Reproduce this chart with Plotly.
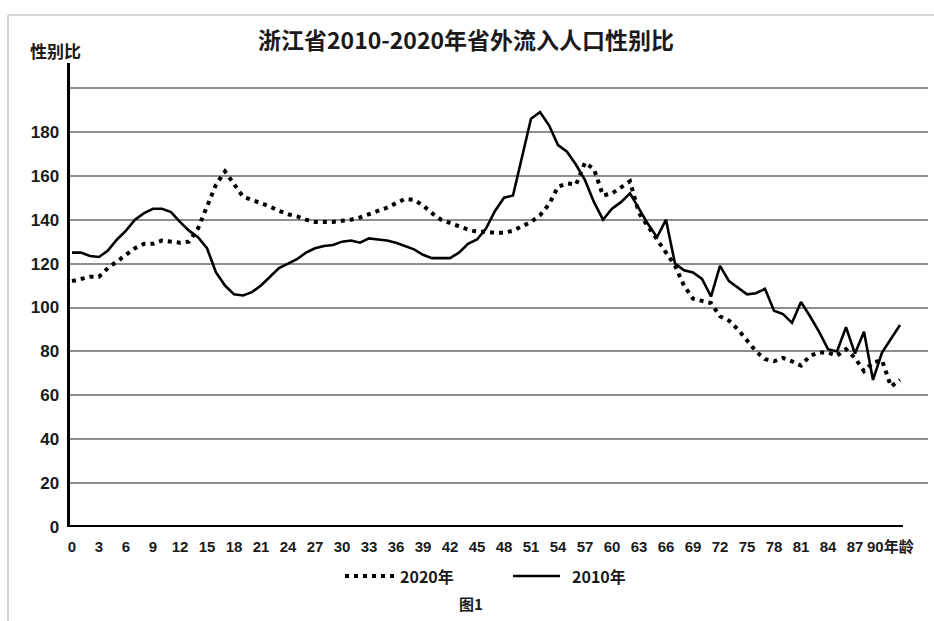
import plotly.graph_objects as go

# ---- data ----
ages = list(range(0, 93))

sex_ratio_2010 = [
    125, 125, 123.5, 123, 126, 131, 135, 140, 143, 145,      # 0-9
    145, 143.5, 139, 135, 132, 127, 116, 110, 106, 105.5,    # 10-19
    107, 110, 114, 118, 120, 122, 125, 127, 128, 128.5,      # 20-29
    130, 130.5, 129.5, 131.5, 131, 130.5, 129.5, 128, 126.5, 124,  # 30-39
    122.5, 122.5, 122.5, 125, 129, 131, 136, 144, 150, 151,  # 40-49
    168, 186, 189, 183, 174, 171, 165, 158, 148, 140,        # 50-59
    145, 148, 152, 145, 138, 132, 140, 120, 117, 116,        # 60-69
    113, 105, 119, 112, 109, 106, 106.5, 108.5, 98.5, 97,    # 70-79
    93, 102.5, 96, 89, 81, 80, 91, 79, 89, 67,              # 80-89
    79.5, 86, 92,                                            # 90-92
]

sex_ratio_2020 = [
    112, 113, 114, 114, 118, 121, 124, 127, 129, 129,        # 0-9
    130.5, 130, 129.5, 130, 136, 146, 156, 162, 156, 150.5,  # 10-19
    149, 147.5, 146, 144, 142.5, 141.5, 140, 139, 139, 139,  # 20-29
    139.5, 140, 141, 142.5, 144, 145.5, 147.5, 149.5, 149, 146.5,  # 30-39
    143, 140, 138.5, 137, 135.5, 134.5, 134.5, 134, 134, 135,  # 40-49
    137, 139, 142, 147, 155, 156.5, 156, 166, 163, 151,      # 50-59
    152, 155, 157.5, 143, 137, 131, 125, 119, 110, 104,      # 60-69
    103, 102, 96, 94, 90, 85, 80, 76.5, 75.5, 77,            # 70-79
    75.5, 73.5, 78, 79.5, 79.5, 78, 81, 77, 71, 75,          # 80-89
    76, 64, 67,                                              # 90-92
]

x_tick_vals = list(range(0, 90, 3))
x_tick_text = [str(v) for v in x_tick_vals]
x_last_label = "90年龄"
y_tick_vals = [0, 20, 40, 60, 80, 100, 120, 140, 160, 180, 200]
y_tick_text = ["0", "20", "40", "60", "80", "100", "120", "140", "160", "180", ""]

title_text = "浙江省2010-2020年省外流入人口性别比"
y_title = "性别比"
series_names = ["2020年", "2010年"]
caption = "图1"

# ---- layout geometry (pixels) ----
W, H = 934, 621
L, R, T, B = 70, 6, 63, 94
pw, ph = W - L - R, H - T - B


def px(x):
    return (x - L) / pw


def py(y):
    return (H - B - y) / ph


CJK = "Noto Sans CJK SC, Liberation Sans, sans-serif"
NUM = "Liberation Sans, Noto Sans CJK SC, sans-serif"
INK = "#1a1a1a"
DOT = "4px,5px"

fig = go.Figure()
fig.add_trace(go.Scatter(
    x=ages, y=sex_ratio_2020, mode="lines", name=series_names[0],
    line=dict(color="black", width=4, dash=DOT), showlegend=False,
))
fig.add_trace(go.Scatter(
    x=ages, y=sex_ratio_2010, mode="lines", name=series_names[1],
    line=dict(color="black", width=2.6), showlegend=False,
))

shapes = [
    # x axis line
    dict(type="line", xref="paper", yref="y", x0=0, x1=px(903), y0=0, y1=0,
         line=dict(color="black", width=4)),
    # faint frame lines
    dict(type="line", xref="paper", yref="paper", x0=px(8), x1=px(W + 5),
         y0=py(15), y1=py(15), line=dict(color="#c8c8c8", width=1.5)),
    dict(type="line", xref="paper", yref="paper", x0=px(8), x1=px(8),
         y0=py(15), y1=py(H + 5), line=dict(color="#c8c8c8", width=1.5)),
    # legend samples
    dict(type="line", xref="paper", yref="paper", x0=px(345), x1=px(396),
         y0=py(576), y1=py(576), line=dict(color="black", width=4, dash=DOT)),
    dict(type="line", xref="paper", yref="paper", x0=px(513), x1=px(560),
         y0=py(576), y1=py(576), line=dict(color="black", width=2.6)),
]

annotations = [
    dict(text=f"<b>{title_text}</b>", xref="paper", yref="paper",
         x=px(466), y=py(39), xanchor="center", yanchor="middle",
         showarrow=False, font=dict(family=CJK, size=23, color=INK)),
    dict(text=f"<b>{y_title}</b>", xref="paper", yref="paper",
         x=px(55), y=py(51), xanchor="center", yanchor="middle",
         showarrow=False, font=dict(family=CJK, size=17, color=INK)),
    dict(text=f"<b>{x_last_label}</b>", xref="paper", yref="paper",
         x=px(865), y=py(546), xanchor="left", yanchor="middle",
         showarrow=False, font=dict(family=NUM, size=15, color=INK)),
    dict(text=f"<b>{series_names[0]}</b>", xref="paper", yref="paper",
         x=px(398), y=py(576), xanchor="left", yanchor="middle",
         showarrow=False, font=dict(family=CJK, size=16, color=INK)),
    dict(text=f"<b>{series_names[1]}</b>", xref="paper", yref="paper",
         x=px(570), y=py(576), xanchor="left", yanchor="middle",
         showarrow=False, font=dict(family=CJK, size=16, color=INK)),
    dict(text=f"<b>{caption}</b>", xref="paper", yref="paper",
         x=px(471), y=py(603), xanchor="center", yanchor="middle",
         showarrow=False, font=dict(family=CJK, size=15, color=INK)),
]

fig.update_layout(
    width=W, height=H,
    margin=dict(l=L, r=R, t=T, b=B, pad=0),
    paper_bgcolor="white", plot_bgcolor="white",
    showlegend=False,
    shapes=shapes, annotations=annotations,
    xaxis=dict(
        range=[(L - 72) / 9.0, (W - R - 72) / 9.0],
        tickmode="array", tickvals=x_tick_vals, ticktext=x_tick_text,
        tickfont=dict(family=NUM, size=15, color=INK, weight="bold"),
        ticks="outside", ticklen=6, tickcolor="rgba(0,0,0,0)",
        showgrid=False, zeroline=False, showline=False, tickangle=0,
        automargin=False,
    ),
    yaxis=dict(
        range=[0, 200 + (88 - T) / ((527 - 88) / 200)],
        tickmode="array", tickvals=y_tick_vals, ticktext=y_tick_text,
        tickfont=dict(family=NUM, size=17, color=INK, weight="bold"),
        ticks="outside", ticklen=4, tickcolor="rgba(0,0,0,0)",
        showgrid=True, gridcolor="#8e8e8e", gridwidth=2,
        zeroline=False, showline=True, linecolor="black", linewidth=3.5,
        automargin=False,
    ),
)

fig.write_html(
    "out.html",
    config={"displayModeBar": False, "staticPlot": True},
    post_script="document.body.style.margin='0px';",
)
